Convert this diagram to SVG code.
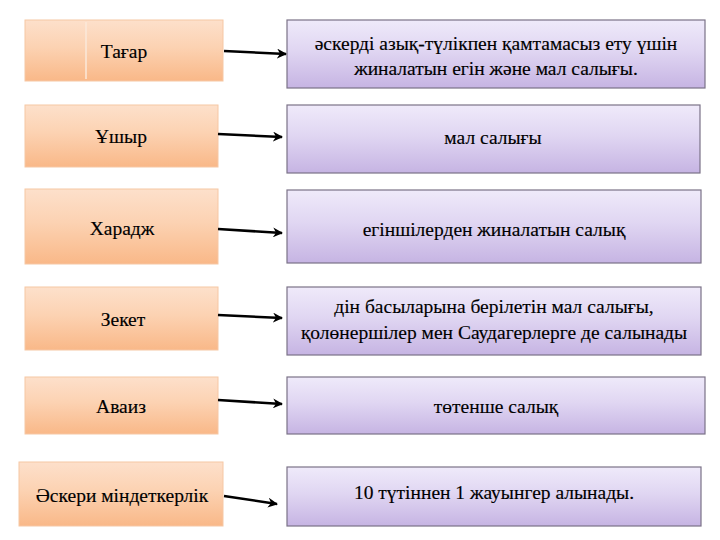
<svg xmlns="http://www.w3.org/2000/svg" width="720" height="540" viewBox="0 0 720 540">
<defs>
<linearGradient id="gOr" x1="0" y1="0" x2="0" y2="1">
<stop offset="0" stop-color="#fde0cb"/>
<stop offset="0.45" stop-color="#fcd2b2"/>
<stop offset="1" stop-color="#f9b888"/>
</linearGradient>
<linearGradient id="gPu" x1="0" y1="0" x2="0" y2="1">
<stop offset="0" stop-color="#efeafa"/>
<stop offset="0.45" stop-color="#e0d6f2"/>
<stop offset="1" stop-color="#c6b4e3"/>
</linearGradient>
<marker id="ah" viewBox="0 0 10 10" refX="9" refY="5" markerWidth="4" markerHeight="4" orient="auto" markerUnits="strokeWidth">
<path d="M0,0 L10,5 L0,10 L3,5 Z" fill="#000"/>
</marker>
</defs>
<style>
.l{fill:url(#gOr);stroke:#f6c7a4;stroke-width:1}
.r{fill:url(#gPu);stroke:#7b7287;stroke-width:1.2}
text{font-family:'Liberation Serif','DejaVu Serif',serif;font-size:19.5px;fill:#000;stroke:#000;stroke-width:0.15;text-anchor:middle}
.c path{stroke:#000;stroke-width:2.5;fill:none;marker-end:url(#ah)}
</style>
<rect width="720" height="540" fill="#fff"/>
<g id="n-tagar"><rect class="l" x="25" y="20" width="198" height="61"/><line x1="86" y1="22" x2="86" y2="79" stroke="#fbe8da" stroke-width="1.5"/><text x="124" y="58">Тағар</text></g>
<g id="n-ushyr"><rect class="l" x="25" y="105" width="193" height="62"/><text x="121" y="143">Ұшыр</text></g>
<g id="n-haradzh"><rect class="l" x="25" y="189" width="193" height="75"/><text x="122" y="235">Харадж</text></g>
<g id="n-zeket"><rect class="l" x="25" y="287" width="193" height="63"/><text x="123" y="326">Зекет</text></g>
<g id="n-avaiz"><rect class="l" x="25" y="377" width="193" height="57"/><text x="121" y="413">Аваиз</text></g>
<g id="n-askeri"><rect class="l" x="19" y="462" width="204" height="64"/><text x="122" y="502">Әскери міндеткерлік</text></g>
<g id="r-tagar"><rect class="r" x="287" y="20" width="418" height="68"/><text x="496" y="50">әскерді азық-түлікпен қамтамасыз ету үшін</text><text x="496" y="75">жиналатын егін және мал салығы.</text></g>
<g id="r-ushyr"><rect class="r" x="287" y="105" width="413" height="68"/><text x="493" y="144">мал салығы</text></g>
<g id="r-haradzh"><rect class="r" x="287" y="190" width="414" height="73"/><text x="494" y="236">егіншілерден жиналатын салық</text></g>
<g id="r-zeket"><rect class="r" x="287" y="287" width="414" height="68"/><text x="494" y="313">дін басыларына берілетін мал салығы,</text><text x="494" y="339">қолөнершілер мен Саудагерлерге де салынады</text></g>
<g id="r-avaiz"><rect class="r" x="287" y="377" width="418" height="57"/><text x="496" y="413">төтенше салық</text></g>
<g id="r-askeri"><rect class="r" x="287" y="467" width="414" height="59"/><text x="494" y="499">10 түтіннен 1 жауынгер алынады.</text></g>
<g class="c" id="connectors">
<path d="M224,51 L286,54"/>
<path d="M218,134 L282,137"/>
<path d="M218,229 L282,233"/>
<path d="M218,315 L282,318"/>
<path d="M218,400 L282,404"/>
<path d="M224,496 L277,504"/>
</g>
</svg>
